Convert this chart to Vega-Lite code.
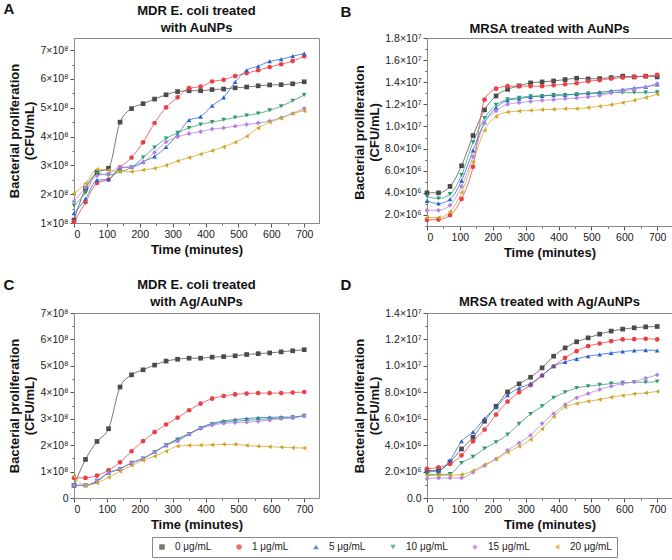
{
  "$schema": "https://vega.github.io/schema/vega-lite/v6.json",
  "padding": {"left": 2, "top": 0, "right": 2, "bottom": 2},
  "datasets": {
    "growth": [
      {"p":"A","c":"0 μg/mL","t":0,"v":1.1e8},{"p":"A","c":"0 μg/mL","t":35,"v":2.2e8},{"p":"A","c":"0 μg/mL","t":70,"v":2.75e8},{"p":"A","c":"0 μg/mL","t":105,"v":2.9e8},{"p":"A","c":"0 μg/mL","t":140,"v":4.5e8},{"p":"A","c":"0 μg/mL","t":175,"v":4.97e8},{"p":"A","c":"0 μg/mL","t":210,"v":5.14e8},{"p":"A","c":"0 μg/mL","t":245,"v":5.3e8},{"p":"A","c":"0 μg/mL","t":280,"v":5.45e8},{"p":"A","c":"0 μg/mL","t":315,"v":5.56e8},{"p":"A","c":"0 μg/mL","t":350,"v":5.59e8},{"p":"A","c":"0 μg/mL","t":385,"v":5.59e8},{"p":"A","c":"0 μg/mL","t":420,"v":5.63e8},{"p":"A","c":"0 μg/mL","t":455,"v":5.65e8},{"p":"A","c":"0 μg/mL","t":490,"v":5.69e8},{"p":"A","c":"0 μg/mL","t":525,"v":5.72e8},{"p":"A","c":"0 μg/mL","t":560,"v":5.76e8},{"p":"A","c":"0 μg/mL","t":595,"v":5.79e8},{"p":"A","c":"0 μg/mL","t":630,"v":5.8e8},{"p":"A","c":"0 μg/mL","t":665,"v":5.83e8},{"p":"A","c":"0 μg/mL","t":700,"v":5.9e8},
      {"p":"A","c":"1 μg/mL","t":0,"v":1.04e8},{"p":"A","c":"1 μg/mL","t":35,"v":1.72e8},{"p":"A","c":"1 μg/mL","t":70,"v":2.39e8},{"p":"A","c":"1 μg/mL","t":105,"v":2.51e8},{"p":"A","c":"1 μg/mL","t":140,"v":2.93e8},{"p":"A","c":"1 μg/mL","t":175,"v":3.27e8},{"p":"A","c":"1 μg/mL","t":210,"v":3.8e8},{"p":"A","c":"1 μg/mL","t":245,"v":4.47e8},{"p":"A","c":"1 μg/mL","t":280,"v":5.01e8},{"p":"A","c":"1 μg/mL","t":315,"v":5.36e8},{"p":"A","c":"1 μg/mL","t":350,"v":5.68e8},{"p":"A","c":"1 μg/mL","t":385,"v":5.73e8},{"p":"A","c":"1 μg/mL","t":420,"v":5.91e8},{"p":"A","c":"1 μg/mL","t":455,"v":5.97e8},{"p":"A","c":"1 μg/mL","t":490,"v":6.1e8},{"p":"A","c":"1 μg/mL","t":525,"v":6.2e8},{"p":"A","c":"1 μg/mL","t":560,"v":6.3e8},{"p":"A","c":"1 μg/mL","t":595,"v":6.41e8},{"p":"A","c":"1 μg/mL","t":630,"v":6.51e8},{"p":"A","c":"1 μg/mL","t":665,"v":6.62e8},{"p":"A","c":"1 μg/mL","t":700,"v":6.79e8},
      {"p":"A","c":"5 μg/mL","t":0,"v":1.34e8},{"p":"A","c":"5 μg/mL","t":35,"v":1.84e8},{"p":"A","c":"5 μg/mL","t":70,"v":2.49e8},{"p":"A","c":"5 μg/mL","t":105,"v":2.51e8},{"p":"A","c":"5 μg/mL","t":140,"v":2.92e8},{"p":"A","c":"5 μg/mL","t":175,"v":2.95e8},{"p":"A","c":"5 μg/mL","t":210,"v":3.13e8},{"p":"A","c":"5 μg/mL","t":245,"v":3.31e8},{"p":"A","c":"5 μg/mL","t":280,"v":3.64e8},{"p":"A","c":"5 μg/mL","t":315,"v":4.07e8},{"p":"A","c":"5 μg/mL","t":350,"v":4.57e8},{"p":"A","c":"5 μg/mL","t":385,"v":4.69e8},{"p":"A","c":"5 μg/mL","t":420,"v":5.07e8},{"p":"A","c":"5 μg/mL","t":455,"v":5.36e8},{"p":"A","c":"5 μg/mL","t":490,"v":5.89e8},{"p":"A","c":"5 μg/mL","t":525,"v":6.3e8},{"p":"A","c":"5 μg/mL","t":560,"v":6.44e8},{"p":"A","c":"5 μg/mL","t":595,"v":6.61e8},{"p":"A","c":"5 μg/mL","t":630,"v":6.68e8},{"p":"A","c":"5 μg/mL","t":665,"v":6.79e8},{"p":"A","c":"5 μg/mL","t":700,"v":6.88e8},
      {"p":"A","c":"10 μg/mL","t":0,"v":1.61e8},{"p":"A","c":"10 μg/mL","t":35,"v":2.04e8},{"p":"A","c":"10 μg/mL","t":70,"v":2.72e8},{"p":"A","c":"10 μg/mL","t":105,"v":2.66e8},{"p":"A","c":"10 μg/mL","t":140,"v":2.78e8},{"p":"A","c":"10 μg/mL","t":175,"v":2.93e8},{"p":"A","c":"10 μg/mL","t":210,"v":3.27e8},{"p":"A","c":"10 μg/mL","t":245,"v":3.62e8},{"p":"A","c":"10 μg/mL","t":280,"v":3.93e8},{"p":"A","c":"10 μg/mL","t":315,"v":4.13e8},{"p":"A","c":"10 μg/mL","t":350,"v":4.3e8},{"p":"A","c":"10 μg/mL","t":385,"v":4.42e8},{"p":"A","c":"10 μg/mL","t":420,"v":4.5e8},{"p":"A","c":"10 μg/mL","t":455,"v":4.58e8},{"p":"A","c":"10 μg/mL","t":490,"v":4.66e8},{"p":"A","c":"10 μg/mL","t":525,"v":4.73e8},{"p":"A","c":"10 μg/mL","t":560,"v":4.8e8},{"p":"A","c":"10 μg/mL","t":595,"v":4.91e8},{"p":"A","c":"10 μg/mL","t":630,"v":5.05e8},{"p":"A","c":"10 μg/mL","t":665,"v":5.24e8},{"p":"A","c":"10 μg/mL","t":700,"v":5.44e8},
      {"p":"A","c":"15 μg/mL","t":0,"v":1.75e8},{"p":"A","c":"15 μg/mL","t":35,"v":2.23e8},{"p":"A","c":"15 μg/mL","t":70,"v":2.64e8},{"p":"A","c":"15 μg/mL","t":105,"v":2.72e8},{"p":"A","c":"15 μg/mL","t":140,"v":2.93e8},{"p":"A","c":"15 μg/mL","t":175,"v":2.93e8},{"p":"A","c":"15 μg/mL","t":210,"v":3.1e8},{"p":"A","c":"15 μg/mL","t":245,"v":3.45e8},{"p":"A","c":"15 μg/mL","t":280,"v":3.81e8},{"p":"A","c":"15 μg/mL","t":315,"v":3.99e8},{"p":"A","c":"15 μg/mL","t":350,"v":4.1e8},{"p":"A","c":"15 μg/mL","t":385,"v":4.17e8},{"p":"A","c":"15 μg/mL","t":420,"v":4.26e8},{"p":"A","c":"15 μg/mL","t":455,"v":4.3e8},{"p":"A","c":"15 μg/mL","t":490,"v":4.36e8},{"p":"A","c":"15 μg/mL","t":525,"v":4.42e8},{"p":"A","c":"15 μg/mL","t":560,"v":4.47e8},{"p":"A","c":"15 μg/mL","t":595,"v":4.54e8},{"p":"A","c":"15 μg/mL","t":630,"v":4.66e8},{"p":"A","c":"15 μg/mL","t":665,"v":4.8e8},{"p":"A","c":"15 μg/mL","t":700,"v":4.98e8},
      {"p":"A","c":"20 μg/mL","t":0,"v":2.02e8},{"p":"A","c":"20 μg/mL","t":35,"v":2.37e8},{"p":"A","c":"20 μg/mL","t":70,"v":2.86e8},{"p":"A","c":"20 μg/mL","t":105,"v":2.84e8},{"p":"A","c":"20 μg/mL","t":140,"v":2.78e8},{"p":"A","c":"20 μg/mL","t":175,"v":2.78e8},{"p":"A","c":"20 μg/mL","t":210,"v":2.84e8},{"p":"A","c":"20 μg/mL","t":245,"v":2.9e8},{"p":"A","c":"20 μg/mL","t":280,"v":3.0e8},{"p":"A","c":"20 μg/mL","t":315,"v":3.15e8},{"p":"A","c":"20 μg/mL","t":350,"v":3.27e8},{"p":"A","c":"20 μg/mL","t":385,"v":3.39e8},{"p":"A","c":"20 μg/mL","t":420,"v":3.51e8},{"p":"A","c":"20 μg/mL","t":455,"v":3.64e8},{"p":"A","c":"20 μg/mL","t":490,"v":3.8e8},{"p":"A","c":"20 μg/mL","t":525,"v":4.01e8},{"p":"A","c":"20 μg/mL","t":560,"v":4.3e8},{"p":"A","c":"20 μg/mL","t":595,"v":4.5e8},{"p":"A","c":"20 μg/mL","t":630,"v":4.63e8},{"p":"A","c":"20 μg/mL","t":665,"v":4.8e8},{"p":"A","c":"20 μg/mL","t":700,"v":4.89e8},

      {"p":"B","c":"0 μg/mL","t":0,"v":4.0e6},{"p":"B","c":"0 μg/mL","t":35,"v":4.0e6},{"p":"B","c":"0 μg/mL","t":70,"v":4.58e6},{"p":"B","c":"0 μg/mL","t":105,"v":6.45e6},{"p":"B","c":"0 μg/mL","t":140,"v":9.18e6},{"p":"B","c":"0 μg/mL","t":175,"v":11.5e6},{"p":"B","c":"0 μg/mL","t":210,"v":12.76e6},{"p":"B","c":"0 μg/mL","t":245,"v":13.36e6},{"p":"B","c":"0 μg/mL","t":280,"v":13.67e6},{"p":"B","c":"0 μg/mL","t":315,"v":13.94e6},{"p":"B","c":"0 μg/mL","t":350,"v":14.03e6},{"p":"B","c":"0 μg/mL","t":385,"v":14.12e6},{"p":"B","c":"0 μg/mL","t":420,"v":14.24e6},{"p":"B","c":"0 μg/mL","t":455,"v":14.36e6},{"p":"B","c":"0 μg/mL","t":490,"v":14.3e6},{"p":"B","c":"0 μg/mL","t":525,"v":14.33e6},{"p":"B","c":"0 μg/mL","t":560,"v":14.42e6},{"p":"B","c":"0 μg/mL","t":595,"v":14.55e6},{"p":"B","c":"0 μg/mL","t":630,"v":14.48e6},{"p":"B","c":"0 μg/mL","t":665,"v":14.55e6},{"p":"B","c":"0 μg/mL","t":700,"v":14.48e6},
      {"p":"B","c":"1 μg/mL","t":0,"v":1.55e6},{"p":"B","c":"1 μg/mL","t":35,"v":1.58e6},{"p":"B","c":"1 μg/mL","t":70,"v":1.97e6},{"p":"B","c":"1 μg/mL","t":105,"v":3.45e6},{"p":"B","c":"1 μg/mL","t":140,"v":6.36e6},{"p":"B","c":"1 μg/mL","t":175,"v":12.42e6},{"p":"B","c":"1 μg/mL","t":210,"v":13.42e6},{"p":"B","c":"1 μg/mL","t":245,"v":13.64e6},{"p":"B","c":"1 μg/mL","t":280,"v":13.64e6},{"p":"B","c":"1 μg/mL","t":315,"v":13.64e6},{"p":"B","c":"1 μg/mL","t":350,"v":13.64e6},{"p":"B","c":"1 μg/mL","t":385,"v":13.73e6},{"p":"B","c":"1 μg/mL","t":420,"v":13.82e6},{"p":"B","c":"1 μg/mL","t":455,"v":13.91e6},{"p":"B","c":"1 μg/mL","t":490,"v":14.09e6},{"p":"B","c":"1 μg/mL","t":525,"v":14.18e6},{"p":"B","c":"1 μg/mL","t":560,"v":14.33e6},{"p":"B","c":"1 μg/mL","t":595,"v":14.42e6},{"p":"B","c":"1 μg/mL","t":630,"v":14.48e6},{"p":"B","c":"1 μg/mL","t":665,"v":14.55e6},{"p":"B","c":"1 μg/mL","t":700,"v":14.67e6},
      {"p":"B","c":"5 μg/mL","t":0,"v":3.27e6},{"p":"B","c":"5 μg/mL","t":35,"v":3.03e6},{"p":"B","c":"5 μg/mL","t":70,"v":3.42e6},{"p":"B","c":"5 μg/mL","t":105,"v":5.09e6},{"p":"B","c":"5 μg/mL","t":140,"v":7.82e6},{"p":"B","c":"5 μg/mL","t":175,"v":10.39e6},{"p":"B","c":"5 μg/mL","t":210,"v":11.7e6},{"p":"B","c":"5 μg/mL","t":245,"v":12.36e6},{"p":"B","c":"5 μg/mL","t":280,"v":12.52e6},{"p":"B","c":"5 μg/mL","t":315,"v":12.67e6},{"p":"B","c":"5 μg/mL","t":350,"v":12.76e6},{"p":"B","c":"5 μg/mL","t":385,"v":12.82e6},{"p":"B","c":"5 μg/mL","t":420,"v":12.85e6},{"p":"B","c":"5 μg/mL","t":455,"v":12.94e6},{"p":"B","c":"5 μg/mL","t":490,"v":13.0e6},{"p":"B","c":"5 μg/mL","t":525,"v":13.09e6},{"p":"B","c":"5 μg/mL","t":560,"v":13.21e6},{"p":"B","c":"5 μg/mL","t":595,"v":13.33e6},{"p":"B","c":"5 μg/mL","t":630,"v":13.48e6},{"p":"B","c":"5 μg/mL","t":665,"v":13.58e6},{"p":"B","c":"5 μg/mL","t":700,"v":13.79e6},
      {"p":"B","c":"10 μg/mL","t":0,"v":3.67e6},{"p":"B","c":"10 μg/mL","t":35,"v":3.48e6},{"p":"B","c":"10 μg/mL","t":70,"v":3.88e6},{"p":"B","c":"10 μg/mL","t":105,"v":5.61e6},{"p":"B","c":"10 μg/mL","t":140,"v":8.58e6},{"p":"B","c":"10 μg/mL","t":175,"v":10.76e6},{"p":"B","c":"10 μg/mL","t":210,"v":11.95e6},{"p":"B","c":"10 μg/mL","t":245,"v":12.45e6},{"p":"B","c":"10 μg/mL","t":280,"v":12.6e6},{"p":"B","c":"10 μg/mL","t":315,"v":12.73e6},{"p":"B","c":"10 μg/mL","t":350,"v":12.76e6},{"p":"B","c":"10 μg/mL","t":385,"v":12.85e6},{"p":"B","c":"10 μg/mL","t":420,"v":12.85e6},{"p":"B","c":"10 μg/mL","t":455,"v":12.91e6},{"p":"B","c":"10 μg/mL","t":490,"v":12.97e6},{"p":"B","c":"10 μg/mL","t":525,"v":12.97e6},{"p":"B","c":"10 μg/mL","t":560,"v":13.06e6},{"p":"B","c":"10 μg/mL","t":595,"v":13.06e6},{"p":"B","c":"10 μg/mL","t":630,"v":13.06e6},{"p":"B","c":"10 μg/mL","t":665,"v":13.06e6},{"p":"B","c":"10 μg/mL","t":700,"v":13.09e6},
      {"p":"B","c":"15 μg/mL","t":0,"v":2.42e6},{"p":"B","c":"15 μg/mL","t":35,"v":2.42e6},{"p":"B","c":"15 μg/mL","t":70,"v":2.88e6},{"p":"B","c":"15 μg/mL","t":105,"v":4.58e6},{"p":"B","c":"15 μg/mL","t":140,"v":7.27e6},{"p":"B","c":"15 μg/mL","t":175,"v":10.3e6},{"p":"B","c":"15 μg/mL","t":210,"v":11.4e6},{"p":"B","c":"15 μg/mL","t":245,"v":12.0e6},{"p":"B","c":"15 μg/mL","t":280,"v":12.15e6},{"p":"B","c":"15 μg/mL","t":315,"v":12.27e6},{"p":"B","c":"15 μg/mL","t":350,"v":12.36e6},{"p":"B","c":"15 μg/mL","t":385,"v":12.42e6},{"p":"B","c":"15 μg/mL","t":420,"v":12.52e6},{"p":"B","c":"15 μg/mL","t":455,"v":12.58e6},{"p":"B","c":"15 μg/mL","t":490,"v":12.67e6},{"p":"B","c":"15 μg/mL","t":525,"v":12.79e6},{"p":"B","c":"15 μg/mL","t":560,"v":13.03e6},{"p":"B","c":"15 μg/mL","t":595,"v":13.21e6},{"p":"B","c":"15 μg/mL","t":630,"v":13.36e6},{"p":"B","c":"15 μg/mL","t":665,"v":13.58e6},{"p":"B","c":"15 μg/mL","t":700,"v":13.88e6},
      {"p":"B","c":"20 μg/mL","t":0,"v":1.76e6},{"p":"B","c":"20 μg/mL","t":35,"v":1.76e6},{"p":"B","c":"20 μg/mL","t":70,"v":2.3e6},{"p":"B","c":"20 μg/mL","t":105,"v":4.03e6},{"p":"B","c":"20 μg/mL","t":140,"v":6.82e6},{"p":"B","c":"20 μg/mL","t":175,"v":9.64e6},{"p":"B","c":"20 μg/mL","t":210,"v":10.91e6},{"p":"B","c":"20 μg/mL","t":245,"v":11.3e6},{"p":"B","c":"20 μg/mL","t":280,"v":11.39e6},{"p":"B","c":"20 μg/mL","t":315,"v":11.45e6},{"p":"B","c":"20 μg/mL","t":350,"v":11.52e6},{"p":"B","c":"20 μg/mL","t":385,"v":11.55e6},{"p":"B","c":"20 μg/mL","t":420,"v":11.61e6},{"p":"B","c":"20 μg/mL","t":455,"v":11.61e6},{"p":"B","c":"20 μg/mL","t":490,"v":11.7e6},{"p":"B","c":"20 μg/mL","t":525,"v":11.82e6},{"p":"B","c":"20 μg/mL","t":560,"v":11.97e6},{"p":"B","c":"20 μg/mL","t":595,"v":12.15e6},{"p":"B","c":"20 μg/mL","t":630,"v":12.36e6},{"p":"B","c":"20 μg/mL","t":665,"v":12.61e6},{"p":"B","c":"20 μg/mL","t":700,"v":12.91e6},

      {"p":"C","c":"0 μg/mL","t":0,"v":0.48e8},{"p":"C","c":"0 μg/mL","t":35,"v":1.46e8},{"p":"C","c":"0 μg/mL","t":70,"v":2.14e8},{"p":"C","c":"0 μg/mL","t":105,"v":2.62e8},{"p":"C","c":"0 μg/mL","t":140,"v":4.2e8},{"p":"C","c":"0 μg/mL","t":175,"v":4.66e8},{"p":"C","c":"0 μg/mL","t":210,"v":4.85e8},{"p":"C","c":"0 μg/mL","t":245,"v":5.03e8},{"p":"C","c":"0 μg/mL","t":280,"v":5.18e8},{"p":"C","c":"0 μg/mL","t":315,"v":5.25e8},{"p":"C","c":"0 μg/mL","t":350,"v":5.29e8},{"p":"C","c":"0 μg/mL","t":385,"v":5.29e8},{"p":"C","c":"0 μg/mL","t":420,"v":5.33e8},{"p":"C","c":"0 μg/mL","t":455,"v":5.35e8},{"p":"C","c":"0 μg/mL","t":490,"v":5.38e8},{"p":"C","c":"0 μg/mL","t":525,"v":5.43e8},{"p":"C","c":"0 μg/mL","t":560,"v":5.46e8},{"p":"C","c":"0 μg/mL","t":595,"v":5.49e8},{"p":"C","c":"0 μg/mL","t":630,"v":5.53e8},{"p":"C","c":"0 μg/mL","t":665,"v":5.57e8},{"p":"C","c":"0 μg/mL","t":700,"v":5.61e8},
      {"p":"C","c":"1 μg/mL","t":0,"v":0.76e8},{"p":"C","c":"1 μg/mL","t":35,"v":0.76e8},{"p":"C","c":"1 μg/mL","t":70,"v":0.85e8},{"p":"C","c":"1 μg/mL","t":105,"v":1.05e8},{"p":"C","c":"1 μg/mL","t":140,"v":1.35e8},{"p":"C","c":"1 μg/mL","t":175,"v":1.77e8},{"p":"C","c":"1 μg/mL","t":210,"v":2.15e8},{"p":"C","c":"1 μg/mL","t":245,"v":2.49e8},{"p":"C","c":"1 μg/mL","t":280,"v":2.78e8},{"p":"C","c":"1 μg/mL","t":315,"v":3.04e8},{"p":"C","c":"1 μg/mL","t":350,"v":3.32e8},{"p":"C","c":"1 μg/mL","t":385,"v":3.57e8},{"p":"C","c":"1 μg/mL","t":420,"v":3.76e8},{"p":"C","c":"1 μg/mL","t":455,"v":3.86e8},{"p":"C","c":"1 μg/mL","t":490,"v":3.92e8},{"p":"C","c":"1 μg/mL","t":525,"v":3.95e8},{"p":"C","c":"1 μg/mL","t":560,"v":3.97e8},{"p":"C","c":"1 μg/mL","t":595,"v":3.97e8},{"p":"C","c":"1 μg/mL","t":630,"v":3.97e8},{"p":"C","c":"1 μg/mL","t":665,"v":3.99e8},{"p":"C","c":"1 μg/mL","t":700,"v":4.01e8},
      {"p":"C","c":"5 μg/mL","t":0,"v":0.48e8},{"p":"C","c":"5 μg/mL","t":35,"v":0.48e8},{"p":"C","c":"5 μg/mL","t":70,"v":0.63e8},{"p":"C","c":"5 μg/mL","t":105,"v":0.95e8},{"p":"C","c":"5 μg/mL","t":140,"v":1.1e8},{"p":"C","c":"5 μg/mL","t":175,"v":1.33e8},{"p":"C","c":"5 μg/mL","t":210,"v":1.49e8},{"p":"C","c":"5 μg/mL","t":245,"v":1.75e8},{"p":"C","c":"5 μg/mL","t":280,"v":2.0e8},{"p":"C","c":"5 μg/mL","t":315,"v":2.24e8},{"p":"C","c":"5 μg/mL","t":350,"v":2.43e8},{"p":"C","c":"5 μg/mL","t":385,"v":2.66e8},{"p":"C","c":"5 μg/mL","t":420,"v":2.82e8},{"p":"C","c":"5 μg/mL","t":455,"v":2.91e8},{"p":"C","c":"5 μg/mL","t":490,"v":2.97e8},{"p":"C","c":"5 μg/mL","t":525,"v":3.01e8},{"p":"C","c":"5 μg/mL","t":560,"v":3.04e8},{"p":"C","c":"5 μg/mL","t":595,"v":3.05e8},{"p":"C","c":"5 μg/mL","t":630,"v":3.06e8},{"p":"C","c":"5 μg/mL","t":665,"v":3.06e8},{"p":"C","c":"5 μg/mL","t":700,"v":3.13e8},
      {"p":"C","c":"10 μg/mL","t":0,"v":0.48e8},{"p":"C","c":"10 μg/mL","t":35,"v":0.48e8},{"p":"C","c":"10 μg/mL","t":70,"v":0.65e8},{"p":"C","c":"10 μg/mL","t":105,"v":0.95e8},{"p":"C","c":"10 μg/mL","t":140,"v":1.1e8},{"p":"C","c":"10 μg/mL","t":175,"v":1.33e8},{"p":"C","c":"10 μg/mL","t":210,"v":1.49e8},{"p":"C","c":"10 μg/mL","t":245,"v":1.74e8},{"p":"C","c":"10 μg/mL","t":280,"v":2.0e8},{"p":"C","c":"10 μg/mL","t":315,"v":2.2e8},{"p":"C","c":"10 μg/mL","t":350,"v":2.42e8},{"p":"C","c":"10 μg/mL","t":385,"v":2.64e8},{"p":"C","c":"10 μg/mL","t":420,"v":2.79e8},{"p":"C","c":"10 μg/mL","t":455,"v":2.87e8},{"p":"C","c":"10 μg/mL","t":490,"v":2.91e8},{"p":"C","c":"10 μg/mL","t":525,"v":2.94e8},{"p":"C","c":"10 μg/mL","t":560,"v":2.97e8},{"p":"C","c":"10 μg/mL","t":595,"v":3.0e8},{"p":"C","c":"10 μg/mL","t":630,"v":3.03e8},{"p":"C","c":"10 μg/mL","t":665,"v":3.05e8},{"p":"C","c":"10 μg/mL","t":700,"v":3.11e8},
      {"p":"C","c":"15 μg/mL","t":0,"v":0.48e8},{"p":"C","c":"15 μg/mL","t":35,"v":0.48e8},{"p":"C","c":"15 μg/mL","t":70,"v":0.66e8},{"p":"C","c":"15 μg/mL","t":105,"v":0.95e8},{"p":"C","c":"15 μg/mL","t":140,"v":1.1e8},{"p":"C","c":"15 μg/mL","t":175,"v":1.33e8},{"p":"C","c":"15 μg/mL","t":210,"v":1.49e8},{"p":"C","c":"15 μg/mL","t":245,"v":1.73e8},{"p":"C","c":"15 μg/mL","t":280,"v":1.99e8},{"p":"C","c":"15 μg/mL","t":315,"v":2.15e8},{"p":"C","c":"15 μg/mL","t":350,"v":2.41e8},{"p":"C","c":"15 μg/mL","t":385,"v":2.62e8},{"p":"C","c":"15 μg/mL","t":420,"v":2.76e8},{"p":"C","c":"15 μg/mL","t":455,"v":2.82e8},{"p":"C","c":"15 μg/mL","t":490,"v":2.85e8},{"p":"C","c":"15 μg/mL","t":525,"v":2.87e8},{"p":"C","c":"15 μg/mL","t":560,"v":2.9e8},{"p":"C","c":"15 μg/mL","t":595,"v":2.95e8},{"p":"C","c":"15 μg/mL","t":630,"v":3.0e8},{"p":"C","c":"15 μg/mL","t":665,"v":3.03e8},{"p":"C","c":"15 μg/mL","t":700,"v":3.1e8},
      {"p":"C","c":"20 μg/mL","t":0,"v":0.82e8},{"p":"C","c":"20 μg/mL","t":35,"v":0.48e8},{"p":"C","c":"20 μg/mL","t":70,"v":0.57e8},{"p":"C","c":"20 μg/mL","t":105,"v":0.78e8},{"p":"C","c":"20 μg/mL","t":140,"v":1.01e8},{"p":"C","c":"20 μg/mL","t":175,"v":1.23e8},{"p":"C","c":"20 μg/mL","t":210,"v":1.42e8},{"p":"C","c":"20 μg/mL","t":245,"v":1.58e8},{"p":"C","c":"20 μg/mL","t":280,"v":1.77e8},{"p":"C","c":"20 μg/mL","t":315,"v":1.96e8},{"p":"C","c":"20 μg/mL","t":350,"v":1.99e8},{"p":"C","c":"20 μg/mL","t":385,"v":2.0e8},{"p":"C","c":"20 μg/mL","t":420,"v":2.01e8},{"p":"C","c":"20 μg/mL","t":455,"v":2.03e8},{"p":"C","c":"20 μg/mL","t":490,"v":2.03e8},{"p":"C","c":"20 μg/mL","t":525,"v":1.99e8},{"p":"C","c":"20 μg/mL","t":560,"v":1.96e8},{"p":"C","c":"20 μg/mL","t":595,"v":1.94e8},{"p":"C","c":"20 μg/mL","t":630,"v":1.92e8},{"p":"C","c":"20 μg/mL","t":665,"v":1.9e8},{"p":"C","c":"20 μg/mL","t":700,"v":1.89e8},

      {"p":"D","c":"0 μg/mL","t":0,"v":2.07e6},{"p":"D","c":"0 μg/mL","t":35,"v":2.1e6},{"p":"D","c":"0 μg/mL","t":70,"v":2.73e6},{"p":"D","c":"0 μg/mL","t":105,"v":3.71e6},{"p":"D","c":"0 μg/mL","t":140,"v":4.6e6},{"p":"D","c":"0 μg/mL","t":175,"v":5.81e6},{"p":"D","c":"0 μg/mL","t":210,"v":6.94e6},{"p":"D","c":"0 μg/mL","t":245,"v":8.03e6},{"p":"D","c":"0 μg/mL","t":280,"v":8.64e6},{"p":"D","c":"0 μg/mL","t":315,"v":9.14e6},{"p":"D","c":"0 μg/mL","t":350,"v":9.85e6},{"p":"D","c":"0 μg/mL","t":385,"v":10.73e6},{"p":"D","c":"0 μg/mL","t":420,"v":11.36e6},{"p":"D","c":"0 μg/mL","t":455,"v":11.82e6},{"p":"D","c":"0 μg/mL","t":490,"v":12.12e6},{"p":"D","c":"0 μg/mL","t":525,"v":12.4e6},{"p":"D","c":"0 μg/mL","t":560,"v":12.63e6},{"p":"D","c":"0 μg/mL","t":595,"v":12.78e6},{"p":"D","c":"0 μg/mL","t":630,"v":12.88e6},{"p":"D","c":"0 μg/mL","t":665,"v":12.95e6},{"p":"D","c":"0 μg/mL","t":700,"v":12.98e6},
      {"p":"D","c":"1 μg/mL","t":0,"v":2.2e6},{"p":"D","c":"1 μg/mL","t":35,"v":2.32e6},{"p":"D","c":"1 μg/mL","t":70,"v":2.58e6},{"p":"D","c":"1 μg/mL","t":105,"v":3.23e6},{"p":"D","c":"1 μg/mL","t":140,"v":4.29e6},{"p":"D","c":"1 μg/mL","t":175,"v":5.18e6},{"p":"D","c":"1 μg/mL","t":210,"v":6.31e6},{"p":"D","c":"1 μg/mL","t":245,"v":7.3e6},{"p":"D","c":"1 μg/mL","t":280,"v":8.0e6},{"p":"D","c":"1 μg/mL","t":315,"v":8.54e6},{"p":"D","c":"1 μg/mL","t":350,"v":9.27e6},{"p":"D","c":"1 μg/mL","t":385,"v":9.97e6},{"p":"D","c":"1 μg/mL","t":420,"v":10.61e6},{"p":"D","c":"1 μg/mL","t":455,"v":11.11e6},{"p":"D","c":"1 μg/mL","t":490,"v":11.49e6},{"p":"D","c":"1 μg/mL","t":525,"v":11.69e6},{"p":"D","c":"1 μg/mL","t":560,"v":11.87e6},{"p":"D","c":"1 μg/mL","t":595,"v":12.0e6},{"p":"D","c":"1 μg/mL","t":630,"v":12.02e6},{"p":"D","c":"1 μg/mL","t":665,"v":12.05e6},{"p":"D","c":"1 μg/mL","t":700,"v":12.0e6},
      {"p":"D","c":"5 μg/mL","t":0,"v":1.97e6},{"p":"D","c":"5 μg/mL","t":35,"v":2.07e6},{"p":"D","c":"5 μg/mL","t":70,"v":2.85e6},{"p":"D","c":"5 μg/mL","t":105,"v":4.29e6},{"p":"D","c":"5 μg/mL","t":140,"v":5.0e6},{"p":"D","c":"5 μg/mL","t":175,"v":6.01e6},{"p":"D","c":"5 μg/mL","t":210,"v":6.87e6},{"p":"D","c":"5 μg/mL","t":245,"v":7.78e6},{"p":"D","c":"5 μg/mL","t":280,"v":8.31e6},{"p":"D","c":"5 μg/mL","t":315,"v":8.66e6},{"p":"D","c":"5 μg/mL","t":350,"v":9.29e6},{"p":"D","c":"5 μg/mL","t":385,"v":9.97e6},{"p":"D","c":"5 μg/mL","t":420,"v":10.3e6},{"p":"D","c":"5 μg/mL","t":455,"v":10.53e6},{"p":"D","c":"5 μg/mL","t":490,"v":10.73e6},{"p":"D","c":"5 μg/mL","t":525,"v":10.86e6},{"p":"D","c":"5 μg/mL","t":560,"v":10.98e6},{"p":"D","c":"5 μg/mL","t":595,"v":11.09e6},{"p":"D","c":"5 μg/mL","t":630,"v":11.16e6},{"p":"D","c":"5 μg/mL","t":665,"v":11.19e6},{"p":"D","c":"5 μg/mL","t":700,"v":11.16e6},
      {"p":"D","c":"10 μg/mL","t":0,"v":1.77e6},{"p":"D","c":"10 μg/mL","t":35,"v":1.77e6},{"p":"D","c":"10 μg/mL","t":70,"v":1.82e6},{"p":"D","c":"10 μg/mL","t":105,"v":2.65e6},{"p":"D","c":"10 μg/mL","t":140,"v":3.11e6},{"p":"D","c":"10 μg/mL","t":175,"v":3.74e6},{"p":"D","c":"10 μg/mL","t":210,"v":4.22e6},{"p":"D","c":"10 μg/mL","t":245,"v":4.8e6},{"p":"D","c":"10 μg/mL","t":280,"v":5.61e6},{"p":"D","c":"10 μg/mL","t":315,"v":6.36e6},{"p":"D","c":"10 μg/mL","t":350,"v":6.94e6},{"p":"D","c":"10 μg/mL","t":385,"v":7.58e6},{"p":"D","c":"10 μg/mL","t":420,"v":8.0e6},{"p":"D","c":"10 μg/mL","t":455,"v":8.33e6},{"p":"D","c":"10 μg/mL","t":490,"v":8.46e6},{"p":"D","c":"10 μg/mL","t":525,"v":8.56e6},{"p":"D","c":"10 μg/mL","t":560,"v":8.66e6},{"p":"D","c":"10 μg/mL","t":595,"v":8.71e6},{"p":"D","c":"10 μg/mL","t":630,"v":8.76e6},{"p":"D","c":"10 μg/mL","t":665,"v":8.76e6},{"p":"D","c":"10 μg/mL","t":700,"v":8.81e6},
      {"p":"D","c":"15 μg/mL","t":0,"v":1.46e6},{"p":"D","c":"15 μg/mL","t":35,"v":1.52e6},{"p":"D","c":"15 μg/mL","t":70,"v":1.52e6},{"p":"D","c":"15 μg/mL","t":105,"v":1.52e6},{"p":"D","c":"15 μg/mL","t":140,"v":1.94e6},{"p":"D","c":"15 μg/mL","t":175,"v":2.45e6},{"p":"D","c":"15 μg/mL","t":210,"v":2.95e6},{"p":"D","c":"15 μg/mL","t":245,"v":3.61e6},{"p":"D","c":"15 μg/mL","t":280,"v":4.17e6},{"p":"D","c":"15 μg/mL","t":315,"v":4.75e6},{"p":"D","c":"15 μg/mL","t":350,"v":5.63e6},{"p":"D","c":"15 μg/mL","t":385,"v":6.39e6},{"p":"D","c":"15 μg/mL","t":420,"v":7.07e6},{"p":"D","c":"15 μg/mL","t":455,"v":7.58e6},{"p":"D","c":"15 μg/mL","t":490,"v":7.9e6},{"p":"D","c":"15 μg/mL","t":525,"v":8.21e6},{"p":"D","c":"15 μg/mL","t":560,"v":8.46e6},{"p":"D","c":"15 μg/mL","t":595,"v":8.64e6},{"p":"D","c":"15 μg/mL","t":630,"v":8.79e6},{"p":"D","c":"15 μg/mL","t":665,"v":9.07e6},{"p":"D","c":"15 μg/mL","t":700,"v":9.32e6},
      {"p":"D","c":"20 μg/mL","t":0,"v":1.72e6},{"p":"D","c":"20 μg/mL","t":35,"v":1.72e6},{"p":"D","c":"20 μg/mL","t":70,"v":1.72e6},{"p":"D","c":"20 μg/mL","t":105,"v":1.77e6},{"p":"D","c":"20 μg/mL","t":140,"v":2.07e6},{"p":"D","c":"20 μg/mL","t":175,"v":2.53e6},{"p":"D","c":"20 μg/mL","t":210,"v":2.95e6},{"p":"D","c":"20 μg/mL","t":245,"v":3.46e6},{"p":"D","c":"20 μg/mL","t":280,"v":3.91e6},{"p":"D","c":"20 μg/mL","t":315,"v":4.42e6},{"p":"D","c":"20 μg/mL","t":350,"v":5.23e6},{"p":"D","c":"20 μg/mL","t":385,"v":6.14e6},{"p":"D","c":"20 μg/mL","t":420,"v":6.89e6},{"p":"D","c":"20 μg/mL","t":455,"v":7.15e6},{"p":"D","c":"20 μg/mL","t":490,"v":7.32e6},{"p":"D","c":"20 μg/mL","t":525,"v":7.45e6},{"p":"D","c":"20 μg/mL","t":560,"v":7.63e6},{"p":"D","c":"20 μg/mL","t":595,"v":7.75e6},{"p":"D","c":"20 μg/mL","t":630,"v":7.88e6},{"p":"D","c":"20 μg/mL","t":665,"v":7.95e6},{"p":"D","c":"20 μg/mL","t":700,"v":8.06e6}
    ]
  },
  "data": {"name": "growth"},
  "bounds": "flush",
  "columns": 2,
  "spacing": {"row": 87, "column": 108},
  "concat": [
    {
      "width": 245, "height": 185,
      "title": {"text": ["MDR E. coli treated", "with AuNPs"], "offset": -34},
      "transform": [{"filter": "datum.p == 'A'"}],
      "layer": [
        {"mark": {"type": "line", "interpolate": "monotone", "strokeWidth": 1, "opacity": 0.75},
         "encoding": {
           "x": {"field": "t", "type": "quantitative", "scale": {"domain": [0, 745], "nice": false},
                 "axis": {"title": "Time (minutes)", "tickCount": 100, "values": [0,50,100,150,200,250,300,350,400,450,500,550,600,650,700],
                          "labelExpr": "datum.value % 100 == 0 ? datum.label : ''",
                          "tickSize": {"condition": {"test": "datum.value % 100 != 0", "value": 2}, "value": 4}}},
           "y": {"field": "v", "type": "quantitative", "scale": {"domain": [1e8, 7.42e8], "nice": false, "zero": false},
                 "axis": {"title": ["Bacterial proliferation", "(CFU/mL)"], "tickCount": 100,
                          "values": [1e8,1.5e8,2e8,2.5e8,3e8,3.5e8,4e8,4.5e8,5e8,5.5e8,6e8,6.5e8,7e8],
                          "labelExpr": "datum.value % 1e8 == 0 ? (datum.value / 1e8) + '×10⁸' : ''",
                          "tickSize": {"condition": {"test": "datum.value % 1e8 != 0", "value": 2}, "value": 4}}},
           "color": {"field": "c", "type": "nominal", "title": null,
                     "scale": {"domain": ["0 μg/mL","1 μg/mL","5 μg/mL","10 μg/mL","15 μg/mL","20 μg/mL"],
                               "range": ["#4b4b4b","#ea3f44","#2563d3","#2e9a6a","#b27fe6","#d4a325"]}}
         }},
        {"mark": {"type": "point", "filled": true, "size": 22, "opacity": 1},
         "encoding": {
           "x": {"field": "t", "type": "quantitative",
                 "axis": {"orient": "top", "title": "A", "domain": false, "ticks": false, "labels": false,
                          "titleFontSize": 15, "titleX": -71, "titleY": -25, "titleAlign": "left", "titleBaseline": "alphabetic", "titleAngle": 0}},
           "y": {"field": "v", "type": "quantitative"},
           "color": {"field": "c", "type": "nominal", "title": null},
           "shape": {"field": "c", "type": "nominal", "title": null,
                     "scale": {"domain": ["0 μg/mL","1 μg/mL","5 μg/mL","10 μg/mL","15 μg/mL","20 μg/mL"],
                               "range": ["square","circle","triangle-up","triangle-down","diamond","triangle-left"]}}
         }}
      ],
      "resolve": {"axis": {"x": "independent"}}
    },
    {
      "width": 245, "height": 188,
      "title": {"text": "MRSA treated with AuNPs", "offset": -32},
      "transform": [{"filter": "datum.p == 'B'"}],
      "layer": [
        {"mark": {"type": "line", "interpolate": "monotone", "strokeWidth": 1, "opacity": 0.75},
         "encoding": {
           "x": {"field": "t", "type": "quantitative", "scale": {"domain": [0, 745], "nice": false},
                 "axis": {"title": "Time (minutes)", "tickCount": 100, "values": [0,50,100,150,200,250,300,350,400,450,500,550,600,650,700],
                          "labelExpr": "datum.value % 100 == 0 ? datum.label : ''",
                          "tickSize": {"condition": {"test": "datum.value % 100 != 0", "value": 2}, "value": 4}}},
           "y": {"field": "v", "type": "quantitative", "scale": {"domain": [1.0e6, 1.8e7], "nice": false, "zero": false},
                 "axis": {"title": ["Bacterial proliferation", "(CFU/mL)"], "tickCount": 100,
                          "values": [1e6,2e6,3e6,4e6,5e6,6e6,7e6,8e6,9e6,1e7,1.1e7,1.2e7,1.3e7,1.4e7,1.5e7,1.6e7,1.7e7,1.8e7],
                          "labelExpr": "datum.value % 2e6 != 0 ? '' : datum.value >= 1e7 ? format(datum.value / 1e7, '.1f') + '×10⁷' : format(datum.value / 1e6, '.1f') + '×10⁶'",
                          "tickSize": {"condition": {"test": "datum.value % 2e6 != 0", "value": 2}, "value": 4}}},
           "color": {"field": "c", "type": "nominal", "title": null}
         }},
        {"mark": {"type": "point", "filled": true, "size": 22, "opacity": 1},
         "encoding": {
           "x": {"field": "t", "type": "quantitative",
                 "axis": {"orient": "top", "title": "B", "domain": false, "ticks": false, "labels": false,
                          "titleFontSize": 15, "titleX": -87, "titleY": -22, "titleAlign": "left", "titleBaseline": "alphabetic", "titleAngle": 0}},
           "y": {"field": "v", "type": "quantitative"},
           "color": {"field": "c", "type": "nominal", "title": null},
           "shape": {"field": "c", "type": "nominal", "title": null}
         }}
      ],
      "resolve": {"axis": {"x": "independent"}}
    },
    {
      "width": 245, "height": 185,
      "title": {"text": ["MDR E. coli treated", "with Ag/AuNPs"], "offset": -32},
      "transform": [{"filter": "datum.p == 'C'"}],
      "layer": [
        {"mark": {"type": "line", "interpolate": "monotone", "strokeWidth": 1, "opacity": 0.75},
         "encoding": {
           "x": {"field": "t", "type": "quantitative", "scale": {"domain": [0, 745], "nice": false},
                 "axis": {"title": "Time (minutes)", "tickCount": 100, "values": [0,50,100,150,200,250,300,350,400,450,500,550,600,650,700],
                          "labelExpr": "datum.value % 100 == 0 ? datum.label : ''",
                          "tickSize": {"condition": {"test": "datum.value % 100 != 0", "value": 2}, "value": 4}}},
           "y": {"field": "v", "type": "quantitative", "scale": {"domain": [0, 7e8], "nice": false},
                 "axis": {"title": ["Bacterial proliferation", "(CFU/mL)"], "tickCount": 100,
                          "values": [0,0.5e8,1e8,1.5e8,2e8,2.5e8,3e8,3.5e8,4e8,4.5e8,5e8,5.5e8,6e8,6.5e8,7e8],
                          "labelExpr": "datum.value == 0 ? '0' : datum.value % 1e8 == 0 ? (datum.value / 1e8) + '×10⁸' : ''",
                          "tickSize": {"condition": {"test": "datum.value % 1e8 != 0", "value": 2}, "value": 4}}},
           "color": {"field": "c", "type": "nominal", "title": null}
         }},
        {"mark": {"type": "point", "filled": true, "size": 22, "opacity": 1},
         "encoding": {
           "x": {"field": "t", "type": "quantitative",
                 "axis": {"orient": "top", "title": "C", "domain": false, "ticks": false, "labels": false,
                          "titleFontSize": 15, "titleX": -71, "titleY": -24, "titleAlign": "left", "titleBaseline": "alphabetic", "titleAngle": 0}},
           "y": {"field": "v", "type": "quantitative"},
           "color": {"field": "c", "type": "nominal", "title": null},
           "shape": {"field": "c", "type": "nominal", "title": null}
         }}
      ],
      "resolve": {"axis": {"x": "independent"}}
    },
    {
      "width": 245, "height": 185,
      "title": {"text": "MRSA treated with Ag/AuNPs", "offset": -32},
      "transform": [{"filter": "datum.p == 'D'"}],
      "layer": [
        {"mark": {"type": "line", "interpolate": "monotone", "strokeWidth": 1, "opacity": 0.75},
         "encoding": {
           "x": {"field": "t", "type": "quantitative", "scale": {"domain": [0, 745], "nice": false},
                 "axis": {"title": "Time (minutes)", "tickCount": 100, "values": [0,50,100,150,200,250,300,350,400,450,500,550,600,650,700],
                          "labelExpr": "datum.value % 100 == 0 ? datum.label : ''",
                          "tickSize": {"condition": {"test": "datum.value % 100 != 0", "value": 2}, "value": 4}}},
           "y": {"field": "v", "type": "quantitative", "scale": {"domain": [0, 1.4e7], "nice": false},
                 "axis": {"title": ["Bacterial proliferation", "(CFU/mL)"], "tickCount": 100,
                          "values": [0,1e6,2e6,3e6,4e6,5e6,6e6,7e6,8e6,9e6,1e7,1.1e7,1.2e7,1.3e7,1.4e7],
                          "labelExpr": "datum.value == 0 ? '0.0' : datum.value % 2e6 != 0 ? '' : datum.value >= 1e7 ? format(datum.value / 1e7, '.1f') + '×10⁷' : format(datum.value / 1e6, '.1f') + '×10⁶'",
                          "tickSize": {"condition": {"test": "datum.value % 2e6 != 0", "value": 2}, "value": 4}}},
           "color": {"field": "c", "type": "nominal", "title": null}
         }},
        {"mark": {"type": "point", "filled": true, "size": 22, "opacity": 1},
         "encoding": {
           "x": {"field": "t", "type": "quantitative",
                 "axis": {"orient": "top", "title": "D", "domain": false, "ticks": false, "labels": false,
                          "titleFontSize": 15, "titleX": -87, "titleY": -24, "titleAlign": "left", "titleBaseline": "alphabetic", "titleAngle": 0}},
           "y": {"field": "v", "type": "quantitative"},
           "color": {"field": "c", "type": "nominal", "title": null},
           "shape": {"field": "c", "type": "nominal", "title": null}
         }}
      ],
      "resolve": {"axis": {"x": "independent"}}
    }
  ],
  "config": {
    "font": "Liberation Sans",
    "view": {"stroke": "#8a8a8a", "strokeWidth": 1},
    "axis": {"domainColor": "#8a8a8a", "tickColor": "#555555", "labelFontSize": 10.5, "labelColor": "#1a1a1a",
             "titleFontSize": 13, "titleFontWeight": "bold", "titleColor": "#111111", "grid": false, "labelOverlap": false,
             "labelFont": "Liberation Sans", "titleFont": "Liberation Sans", "titlePadding": 3, "labelPadding": 2},
    "axisX": {"titlePadding": 4},
    "title": {"fontSize": 13, "fontWeight": "bold", "color": "#111111", "lineHeight": 17, "font": "Liberation Sans"},
    "legend": {"orient": "none", "legendX": 78, "legendY": 499, "direction": "horizontal", "columns": 6,
               "strokeColor": "#888888", "padding": 5, "labelFontSize": 10, "labelFont": "Liberation Sans",
               "symbolSize": 30, "columnPadding": 22, "labelOffset": 8, "labelColor": "#222222", "symbolStrokeWidth": 0}
  }
}
